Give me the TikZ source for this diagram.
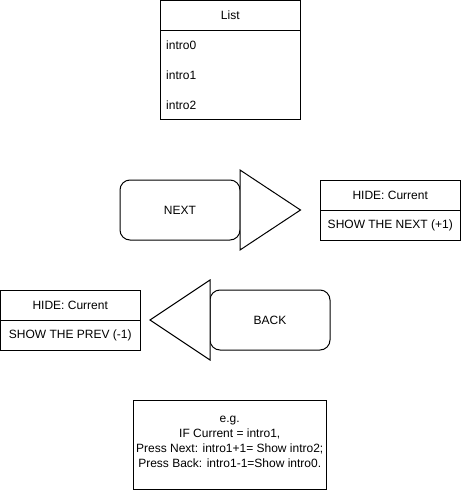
\documentclass[tikz,border=0pt]{standalone}
\usepackage{fontspec}
\setmainfont{Liberation Sans}
\newcommand{\dfont}{\fontsize{12pt}{15pt}\selectfont}
\begin{document}
\begin{tikzpicture}[x=1pt,y=-1pt,
  box/.style={draw=black, line width=1pt, inner sep=0pt, outer sep=0pt, font=\dfont},
  rbox/.style={box, rounded corners=10pt},
  item/.style={font=\dfont, inner sep=0pt, anchor=west},
  tri/.style={draw=black, line width=1pt, fill=white, line join=miter}]
\useasboundingbox (0,0) rectangle (461,491);
% List
\node[box, minimum width=139.5pt, minimum height=30pt] (listhead) at (230.25,15.25) {List};
\node[box, minimum width=139.5pt, minimum height=89.5pt, anchor=north] (listbody) at (listhead.south) {};
\node[item] (i0) at (166,45) {intro0};
\node[item] (i1) at (166,75) {intro1};
\node[item] (i2) at (166,105) {intro2};
% NEXT
\node[rbox, minimum width=120pt, minimum height=60pt] (next) at (180,210) {NEXT};
\coordinate (nt1) at (240,170);
\coordinate (nt2) at (240,250);
\coordinate (nt3) at (300.5,210);
\draw[tri] (nt1) -- (nt3) -- (nt2) -- cycle;
% HIDE next
\node[box, minimum width=140pt, minimum height=30pt] (hn) at (390.25,195) {HIDE: Current};
\node[box, minimum width=140pt, minimum height=30pt, anchor=north] (sn) at (hn.south) {SHOW THE NEXT (+1)};
% BACK
\node[rbox, minimum width=120pt, minimum height=60pt] (back) at (270,320) {BACK};
\coordinate (bt1) at (210,280);
\coordinate (bt2) at (210,360);
\coordinate (bt3) at (150,320);
\draw[tri] (bt1) -- (bt3) -- (bt2) -- cycle;
% HIDE prev
\node[box, minimum width=139.5pt, minimum height=30pt] (hp) at (70.25,305) {HIDE: Current};
\node[box, minimum width=139.5pt, minimum height=30pt, anchor=north] (sp) at (hp.south) {SHOW THE PREV (-1)};
% Example
\node[box, minimum width=192.5pt, minimum height=89pt] (ex) at (229.75,444.5) {};
\node[font=\dfont, align=center, inner sep=0pt] (extext) at (229.75,442) {e.g.\\IF Current = intro1,\\Press Next: intro1+1= Show intro2;\\Press Back: intro1-1=Show intro0.};
\end{tikzpicture}
\end{document}
